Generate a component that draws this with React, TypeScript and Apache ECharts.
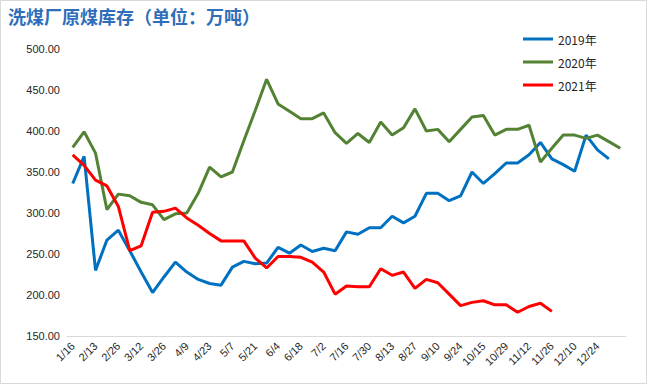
import React, { useEffect, useRef } from "react";
import * as echarts from "echarts";

const categories = [
  "1/16", "1/30", "2/13", "2/20", "2/26", "3/5", "3/12", "3/19", "3/26", "4/2",
  "4/9", "4/16", "4/23", "4/30", "5/7", "5/14", "5/21", "5/28", "6/4", "6/11",
  "6/18", "6/25", "7/2", "7/9", "7/16", "7/23", "7/30", "8/6", "8/13", "8/20",
  "8/27", "9/3", "9/10", "9/17", "9/24", "10/8", "10/15", "10/22", "10/29", "11/5",
  "11/12", "11/19", "11/26", "12/3", "12/10", "12/17", "12/24", "12/31", "1/7",
];

const series2019 = [
  336, 369, 230, 267, 279, 254, 228, 203, 222, 240, 228, 219, 214, 212, 234, 241,
  238, 239, 258, 251, 261, 253, 257, 254, 277, 274, 282, 282, 296, 288, 296, 324,
  324, 315, 321, 350, 336, 348, 361, 361, 371, 386, 366, 359, 351, 395, 377, 366,
];

const series2020 = [
  380, 399, 373, 304, 323, 321, 313, 310, 292, 299, 300, 324, 356, 344, 350, 388,
  425, 463, 433, 424, 415, 415, 422, 398, 385, 397, 386, 411, 395, 404, 427, 400,
  402, 387, 402, 417, 419, 395, 402, 402, 407, 362, 379, 395, 395, 391, 395, 387, 379,
];

const series2021 = [
  371, 358, 340, 333, 308, 254, 260, 301, 302, 306, 294, 285, 275, 266, 266, 266,
  245, 233, 247, 247, 246, 240, 228, 201, 211, 210, 210, 232, 224, 228, 208, 219,
  215, 201, 187, 191, 193, 188, 188, 179, 186, 190, 180,
];

const seriesNames = ["2019年", "2020年", "2021年"];
const seriesColors = ["#0070C0", "#548235", "#FF0000"];
const titleText = "洗煤厂原煤库存（单位：万吨）";

export default function App() {
  const ref = useRef<HTMLDivElement>(null);

  useEffect(() => {
    if (!ref.current) return;
    const chart = echarts.init(ref.current, undefined, { renderer: "svg" });
    const datas = [series2019, series2020, series2021];
    chart.setOption({
      animation: false,
      backgroundColor: "#ffffff",
      title: {
        text: titleText,
        left: 8,
        top: 7,
        padding: 0,
        textStyle: {
          fontFamily: '"Noto Sans CJK SC"',
          fontSize: 18,
          fontWeight: "bold",
          color: "#2F6EBA",
        },
      },
      graphic: [
        {
          type: "rect",
          shape: { x: 0.5, y: 0.5, width: 646, height: 383 },
          style: { fill: "none", stroke: "#d9d9d9", lineWidth: 1 },
          silent: true,
        },
      ],
      legend: {
        orient: "vertical",
        left: 523,
        top: 33,
        icon: "rect",
        itemWidth: 30,
        itemHeight: 3,
        itemGap: 11,
        padding: 0,
        data: seriesNames,
        textStyle: {
          fontFamily: '"Noto Sans CJK SC"',
          fontSize: 12,
          color: "#262626",
        },
      },
      grid: {
        left: 67,
        right: 22,
        top: 49,
        bottom: 49,
        containLabel: false,
      },
      xAxis: {
        type: "category",
        data: categories,
        boundaryGap: true,
        axisLine: { lineStyle: { color: "#d9d9d9", width: 1 } },
        axisTick: {
          interval: 0,
          length: 3,
          lineStyle: { color: "#d9d9d9" },
        },
        axisLabel: {
          interval: (i: number) => i % 2 === 0 && i < 48,
          rotate: 45,
          margin: 8,
          fontFamily: '"Liberation Sans"',
          fontSize: 11,
          color: "#262626",
        },
        splitLine: { show: false },
      },
      yAxis: {
        type: "value",
        min: 150,
        max: 500,
        interval: 50,
        axisLine: { show: false },
        axisTick: { show: false },
        splitLine: { show: false },
        axisLabel: {
          margin: 7,
          fontFamily: '"Liberation Sans"',
          fontSize: 11,
          color: "#262626",
          formatter: (v: number) => v.toFixed(2),
        },
      },
      series: seriesNames.map((name, k) => ({
        name,
        type: "line",
        data: datas[k],
        symbol: "none",
        smooth: false,
        lineStyle: { width: 3, color: seriesColors[k] },
        itemStyle: { color: seriesColors[k] },
      })),
    });
    return () => chart.dispose();
  }, []);

  return (
    <div
      ref={ref}
      style={{ position: "fixed", left: 0, top: 0, width: 648, height: 385 }}
    />
  );
}
